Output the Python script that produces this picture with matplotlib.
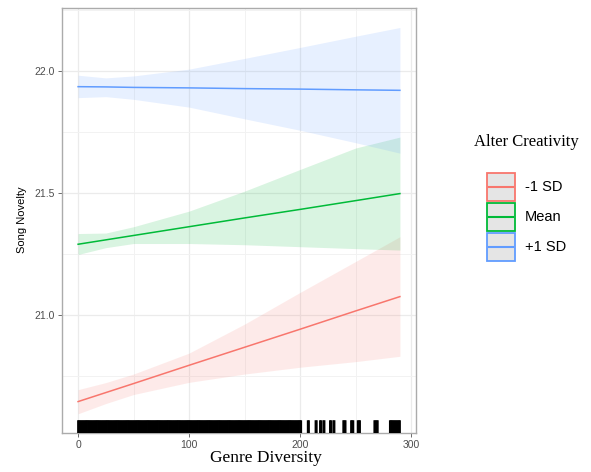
import matplotlib.pyplot as plt
from matplotlib.patches import Rectangle

# genre diversity grid where the predicted lines / 95% bands were read
genre_div = [0, 25, 50, 100, 150, 200, 250, 290]

low_fit = [20.644, 20.681, 20.718, 20.793, 20.867, 20.941, 21.016, 21.075]
low_lo = [20.594, 20.636, 20.673, 20.723, 20.757, 20.785, 20.808, 20.830]
low_hi = [20.693, 20.722, 20.757, 20.843, 20.962, 21.092, 21.219, 21.321]

mean_fit = [21.290, 21.308, 21.326, 21.362, 21.398, 21.433, 21.469, 21.498]
mean_lo = [21.248, 21.276, 21.293, 21.293, 21.288, 21.280, 21.272, 21.266]
mean_hi = [21.334, 21.336, 21.362, 21.426, 21.508, 21.597, 21.685, 21.730]

high_fit = [21.937, 21.936, 21.934, 21.932, 21.929, 21.927, 21.924, 21.922]
high_lo = [21.892, 21.896, 21.885, 21.853, 21.805, 21.758, 21.707, 21.664]
high_hi = [21.984, 21.973, 21.981, 22.009, 22.053, 22.098, 22.144, 22.180]

# observed genre diversity values (rug): dense up to ~201, then sparse
rug_dense = list(range(0, 202))
rug_sparse = [207, 208, 214, 215, 218, 219, 221, 222, 227, 228, 230, 231,
              239, 240, 241, 246, 247, 248, 252, 253, 254, 267, 268, 269, 270,
              281, 282, 283, 284, 285, 286, 287, 288, 289, 290]

groups = ["-1 SD", "Mean", "+1 SD"]
colors = ["#F8766D", "#00BA38", "#619CFF"]
fits = [low_fit, mean_fit, high_fit]
los = [low_lo, mean_lo, high_lo]
his = [low_hi, mean_hi, high_hi]

W, H = 591, 472
fig = plt.figure(figsize=(W / 100, H / 100), dpi=100)
ax = fig.add_axes([62 / W, 39 / H, 354 / W, 425 / H])

for fit, lo, hi, c in zip(fits, los, his, colors):
    ax.fill_between(genre_div, lo, hi, color=c, alpha=0.15, lw=0, zorder=2)
for fit, c in zip(fits, colors):
    ax.plot(genre_div, fit, color=c, lw=1.1, zorder=3)

ax.vlines(rug_dense + rug_sparse, 0, 0.03, transform=ax.get_xaxis_transform(),
          color="black", lw=1.4, zorder=4, snap=False)

ax.set_xlim(-14.5, 304.5)
ax.set_ylim(20.515, 22.26)
ax.set_xticks([0, 100, 200, 300])
ax.set_xticks([50, 150, 250], minor=True)
ax.set_yticks([21.0, 21.5, 22.0])
ax.set_yticklabels(["21.0", "21.5", "22.0"])
ax.set_yticks([20.75, 21.25, 21.75, 22.25], minor=True)
ax.grid(which="major", color="#EBEBEB", lw=0.9, zorder=0)
ax.grid(which="minor", color="#F2F2F2", lw=0.7, zorder=0)
ax.set_axisbelow(True)
ax.tick_params(which="major", length=3, width=0.6, color="#555555",
               labelcolor="#4D4D4D", labelsize=7.5, pad=2)
ax.tick_params(which="minor", length=0)
for lab in ax.get_xticklabels() + ax.get_yticklabels():
    lab.set_family("Liberation Sans")
for s in ax.spines.values():
    s.set_color("#ABABAB")
    s.set_linewidth(1.0)

fig.text(22 / W, 1 - 220 / H, "Song Novelty", rotation=90, ha="center",
         va="center", fontsize=8, family="Liberation Sans")
fig.text(266 / W, 1 - 458 / H, "Genre Diversity", ha="center", va="center",
         fontsize=12.5, family="Liberation Serif")

# legend drawn by hand in a pixel-space overlay
lax = fig.add_axes([0, 0, 1, 1])
lax.set_xlim(0, W)
lax.set_ylim(H, 0)
lax.axis("off")
lax.text(526, 142, "Alter Creativity", ha="center", va="center",
         fontsize=12, family="Liberation Serif")
for i, (g, c) in enumerate(zip(groups, colors)):
    top = 173 + i * 30
    lax.add_patch(Rectangle((487, top), 28, 28, facecolor="#E5E5E5",
                            edgecolor=c, lw=1.3))
    lax.plot([489, 513], [top + 14, top + 14], color=c, lw=1.5)
    lax.text(525, top + 14, g, ha="left", va="center", fontsize=10.5,
             family="Liberation Sans")

fig.savefig("out.png", dpi=100)
